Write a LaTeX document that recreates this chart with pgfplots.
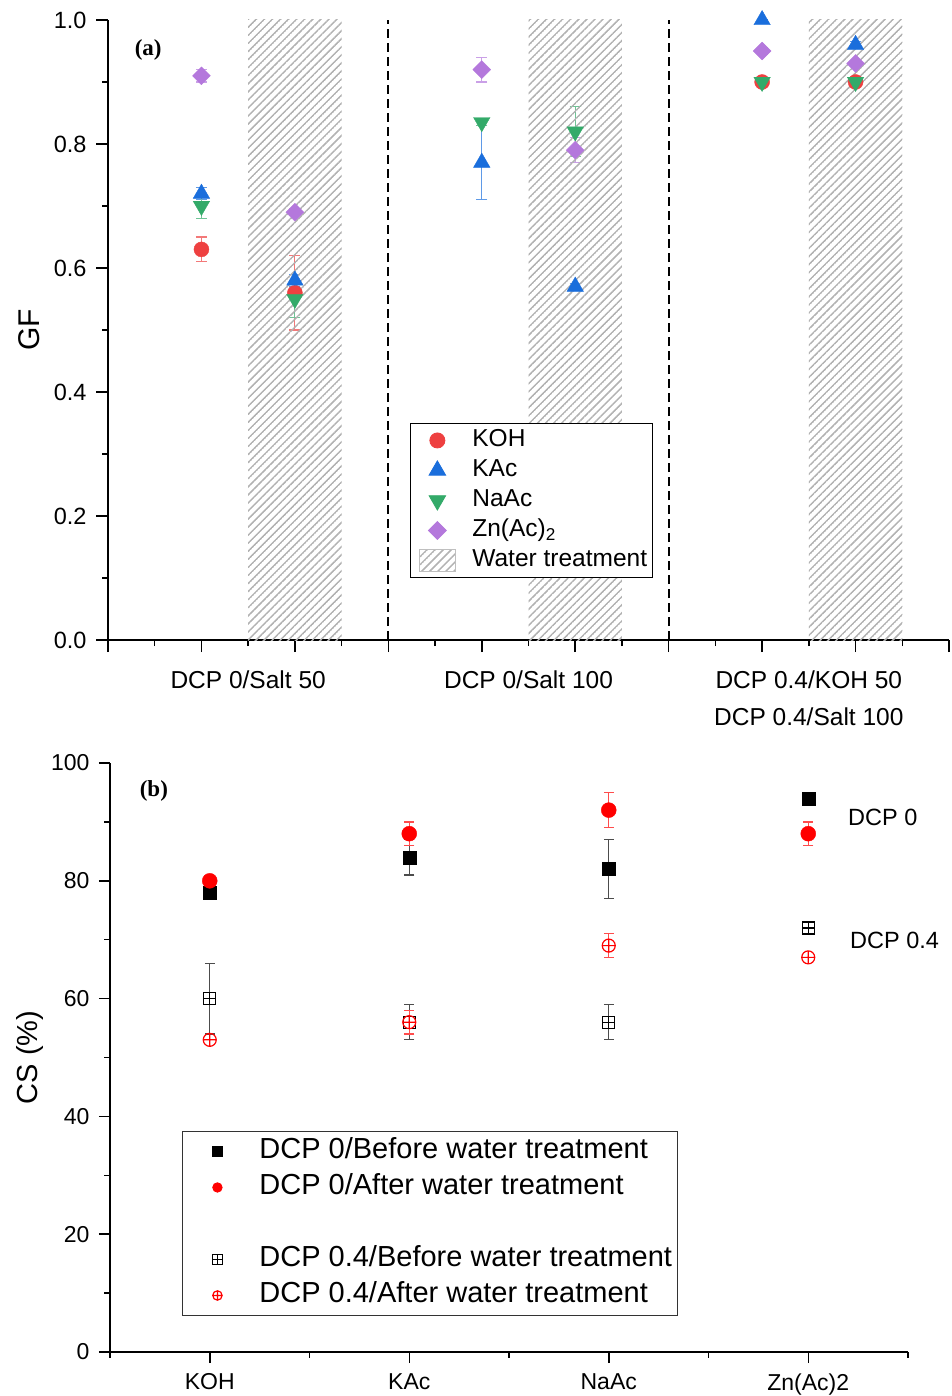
\documentclass[border=0pt]{standalone}
\usepackage{fontspec}
\setmainfont{Liberation Sans}
\newfontfamily\serifbf{Liberation Serif}
\usepackage{pgfplots}
\pgfplotsset{compat=1.18}
\usetikzlibrary{patterns.meta}
\definecolor{cKOH}{RGB}{238,64,64}
\definecolor{cKAc}{RGB}{26,110,220}
\definecolor{cNaAc}{RGB}{51,170,105}
\definecolor{cZn}{RGB}{180,120,220}
\definecolor{cRed}{RGB}{255,0,0}
\pgfdeclareplotmark{boxplus}{%
  \pgfpathrectangle{\pgfqpoint{-\pgfplotmarksize}{-\pgfplotmarksize}}{\pgfqpoint{2\pgfplotmarksize}{2\pgfplotmarksize}}%
  \pgfpathmoveto{\pgfqpoint{-\pgfplotmarksize}{0pt}}\pgfpathlineto{\pgfqpoint{\pgfplotmarksize}{0pt}}%
  \pgfpathmoveto{\pgfqpoint{0pt}{-\pgfplotmarksize}}\pgfpathlineto{\pgfqpoint{0pt}{\pgfplotmarksize}}%
  \pgfusepathqstroke}
\tikzdeclarepattern{
  name=hatch,
  type=uncolored,
  parameters={
    /pgf/pattern keys/size,
    /pgf/pattern keys/angle,
    /pgf/pattern keys/line width,
  },
  bounding box={
    (0,-0.5*\pgfkeysvalueof{/pgf/pattern keys/line width}) and
    (\pgfkeysvalueof{/pgf/pattern keys/size},
     0.5*\pgfkeysvalueof{/pgf/pattern keys/line width})},
  tile size={(\pgfkeysvalueof{/pgf/pattern keys/size},
              \pgfkeysvalueof{/pgf/pattern keys/size})},
  tile transformation={rotate=\pgfkeysvalueof{/pgf/pattern keys/angle}},
  defaults={
    size/.initial=5pt,
    angle/.initial=45,
    line width/.initial=.4pt,
  },
  code={
    \draw [line width=\pgfkeysvalueof{/pgf/pattern keys/line width}]
      (0,0) -- (\pgfkeysvalueof{/pgf/pattern keys/size},0);
  },
}
\tikzset{hatchfill/.style={pattern={hatch[size=5.7pt,angle=45,line width=1.5pt]}, pattern color=black!30}}
\pgfplotsset{
  legmark/.style 2 args={legend image code/.code={\path[draw=none,fill=none] (-#1,0pt) (#2,0pt);
    \draw[mark repeat=2,mark phase=2,##1] plot coordinates {(-5pt,0pt) (0pt,0pt) (5pt,0pt)};}},
}
\begin{document}
\begin{tikzpicture}
\path[use as bounding box] (0,0) rectangle (951pt,-1396pt);
% ---------------- panel (a)
\begin{axis}[
  at={(108pt,-640pt)}, anchor=south west,
  scale only axis, width=841pt, height=620pt,
  xmin=0, xmax=9, ymin=0, ymax=1, clip=false,
  axis lines=left, axis line style={-, line width=1.6pt},
  tick align=outside, major tick length=12pt, minor tick length=6pt,
  every tick/.style={line width=1.5pt, black},
  xtick={0,1,2,3,4,5,6,7,8,9}, xticklabels={},
  minor xtick={0.5,1.5,2.5,3.5,4.5,5.5,6.5,7.5,8.5},
  ytick={0,0.2,0.4,0.6,0.8,1.0}, minor ytick={0.1,0.3,0.5,0.7,0.9},
  yticklabel style={xshift=-6pt, /pgf/number format/.cd, fixed, fixed zerofill, precision=1, assume math mode=true},
  tick label style={font=\fontsize{23.5}{28}\selectfont},
  extra x ticks={1.5,4.5,7.5},
  extra x tick labels={DCP 0/Salt 50, DCP 0/Salt 100, {DCP 0.4/KOH 50\\DCP 0.4/Salt 100}},
  extra x tick style={major tick length=0pt, xticklabel style={font=\fontsize{24.5}{37}\selectfont, align=center, yshift=-27pt}},
  ylabel={GF},
  ylabel style={font=\fontsize{30}{36}\selectfont, at={(axis description cs:-0.094,0.5)}, anchor=center},
  legend style={at={(0.359,0.35)}, anchor=north west, draw=black, line width=0.9pt,
    font=\fontsize{24.5}{29}\selectfont, inner sep=2pt, row sep=0pt,
    nodes={inner sep=3pt, text height=18pt, text depth=6pt}},
  legend cell align=left,
]
\addplot[only marks, mark=*, mark size=7.5pt, color=cKOH, legmark={25pt}{32pt},
  error bars/.cd, y dir=both, y explicit,
  error bar style={line width=1.2pt, cKOH!70},
  error mark options={rotate=90, mark size=5.5pt, line width=1.2pt, cKOH!70}]
  coordinates {(1,0.63) +- (0,0.02) (2,0.56) +- (0,0.06) (7,0.90) +- (0,0.005) (8,0.90) +- (0,0.005)};
\addlegendentry{KOH}
\addplot[only marks, mark=triangle*, mark size=9.5pt, color=cKAc, legmark={25pt}{32pt},
  error bars/.cd, y dir=both, y explicit,
  error bar style={line width=1.2pt, cKAc!70},
  error mark options={rotate=90, mark size=5.5pt, line width=1.2pt, cKAc!70}]
  coordinates {(1,0.72) +- (0,0.01) (2,0.58) +- (0,0.01) (4,0.77) +- (0,0.06) (5,0.57) +- (0,0.005) (7,1.0) +- (0,0) (8,0.96) +- (0,0.005)};
\addlegendentry{KAc}
\addplot[only marks, mark=triangle*, mark size=9.5pt, mark options={rotate=180}, color=cNaAc, legmark={25pt}{32pt},
  error bars/.cd, y dir=both, y explicit,
  error bar style={line width=1.2pt, cNaAc!70},
  error mark options={rotate=90, mark size=5.5pt, line width=1.2pt, cNaAc!70}]
  coordinates {(1,0.70) +- (0,0.02) (2,0.55) +- (0,0.03) (4,0.835) +- (0,0.005) (5,0.82) +- (0,0.04) (7,0.90) +- (0,0.005) (8,0.90) +- (0,0.005)};
\addlegendentry{NaAc}
\addplot[only marks, mark=square*, mark size=6.3pt, mark options={rotate=45}, color=cZn, legmark={25pt}{32pt},
  error bars/.cd, y dir=both, y explicit,
  error bar style={line width=1.2pt, cZn!70},
  error mark options={rotate=90, mark size=5.5pt, line width=1.2pt, cZn!70}]
  coordinates {(1,0.91) +- (0,0.01) (2,0.69) +- (0,0.005) (4,0.92) +- (0,0.02) (5,0.79) +- (0,0.02) (7,0.95) +- (0,0.005) (8,0.93) +- (0,0.005)};
\addlegendentry{Zn(Ac)\textsubscript{2}}
\addplot[forget plot, draw=none, hatchfill] coordinates {(1.5,0) (1.5,1) (2.5,1) (2.5,0)} -- cycle;
\addplot[forget plot, draw=none, hatchfill] coordinates {(4.5,0) (4.5,1) (5.5,1) (5.5,0)} -- cycle;
\addplot[forget plot, draw=none, hatchfill] coordinates {(7.5,0) (7.5,1) (8.5,1) (8.5,0)} -- cycle;
\addplot[forget plot, black, line width=2.2pt, dash pattern=on 9pt off 5pt] coordinates {(3,0) (3,1)};
\addplot[forget plot, black, line width=2.2pt, dash pattern=on 9pt off 5pt] coordinates {(6,0) (6,1)};
\addlegendimage{legend image code/.code={\path[draw=none,fill=none] (-25pt,-14pt) (32pt,14pt); \draw[hatchfill, draw=black!25, line width=1pt] (-18pt,-11pt) rectangle (18pt,11pt);}}
\addlegendentry{Water treatment}
\node[font=\serifbf\bfseries\fontsize{23}{28}\selectfont] at (axis cs:0.43,0.952) {(a)};
\end{axis}
% ---------------- panel (b)
\begin{axis}[
  at={(110pt,-1352pt)}, anchor=south west,
  scale only axis, width=798pt, height=589pt,
  xmin=0.5, xmax=4.5, ymin=0, ymax=100, clip=false,
  axis lines=left, axis line style={-, line width=1.6pt},
  tick align=outside, major tick length=11pt, minor tick length=5.5pt,
  every tick/.style={line width=1.5pt, black},
  xtick={1,2,3,4}, xticklabels={KOH,KAc,NaAc,Zn(Ac)2},
  minor xtick={0.5,1.5,2.5,3.5,4.5},
  ytick={0,20,40,60,80,100}, minor ytick={10,30,50,70,90},
  yticklabel style={xshift=-6pt, /pgf/number format/assume math mode=true},
  xticklabel style={yshift=-7pt},
  tick label style={font=\fontsize{23}{28}\selectfont},
  ylabel={CS (\%)},
  ylabel style={font=\fontsize{29}{35}\selectfont, at={(axis description cs:-0.1003,0.5)}, anchor=center},
  legend style={at={(0.0902,0.3752)}, anchor=north west, draw=black!80, line width=0.9pt,
    font=\fontsize{29}{35}\selectfont, inner sep=2pt, row sep=0pt,
    nodes={inner sep=3pt, text height=22pt, text depth=8pt}},
  legend cell align=left,
  legend image post style={mark size=4.7pt},
]
\addplot[only marks, mark=square*, mark size=6.5pt, color=black, legmark={33pt}{39pt},
  error bars/.cd, y dir=both, y explicit,
  error bar style={line width=1.3pt, black!70},
  error mark options={rotate=90, mark size=5pt, line width=1.3pt, black!70}]
  coordinates {(1,78) +- (0,0) (2,84) +- (0,3) (3,82) +- (0,5) (4,94) +- (0,0)};
\addlegendentry{DCP 0/Before water treatment}
\addplot[only marks, mark=*, mark size=7.5pt, color=cRed, legmark={33pt}{39pt},
  error bars/.cd, y dir=both, y explicit,
  error bar style={line width=1.3pt, cRed!70},
  error mark options={rotate=90, mark size=5pt, line width=1.3pt, cRed!70}]
  coordinates {(1,80) +- (0,0) (2,88) +- (0,2) (3,92) +- (0,3) (4,88) +- (0,2)};
\addlegendentry{DCP 0/After water treatment}
\addlegendimage{empty legend}
\addlegendentry{}
\addplot[only marks, mark=boxplus, mark size=6pt, color=black, mark options={line width=1.2pt}, legmark={33pt}{39pt},
  error bars/.cd, y dir=both, y explicit,
  error bar style={line width=1.3pt, black!70},
  error mark options={rotate=90, mark size=5pt, line width=1.3pt, black!70}]
  coordinates {(1,60) +- (0,6) (2,56) +- (0,3) (3,56) +- (0,3) (4,72) +- (0,0)};
\addlegendentry{DCP 0.4/Before water treatment}
\addplot[only marks, mark=oplus, mark size=6.5pt, color=cRed, mark options={line width=1.2pt}, legmark={33pt}{39pt},
  error bars/.cd, y dir=both, y explicit,
  error bar style={line width=1.3pt, cRed!70},
  error mark options={rotate=90, mark size=5pt, line width=1.3pt, cRed!70}]
  coordinates {(1,53) +- (0,0) (2,56) +- (0,2) (3,69) +- (0,2) (4,67) +- (0,0)};
\addlegendentry{DCP 0.4/After water treatment}
\node[anchor=west, font=\fontsize{23.5}{28}\selectfont, inner sep=0pt] at (axis cs:4.199,90.8) {DCP 0};
\node[anchor=west, font=\fontsize{23.5}{28}\selectfont, inner sep=0pt] at (axis cs:4.209,69.95) {DCP 0.4};
\node[font=\serifbf\bfseries\fontsize{23}{28}\selectfont] at (axis cs:0.72,95.2) {(b)};
\end{axis}
\end{tikzpicture}
\end{document}
